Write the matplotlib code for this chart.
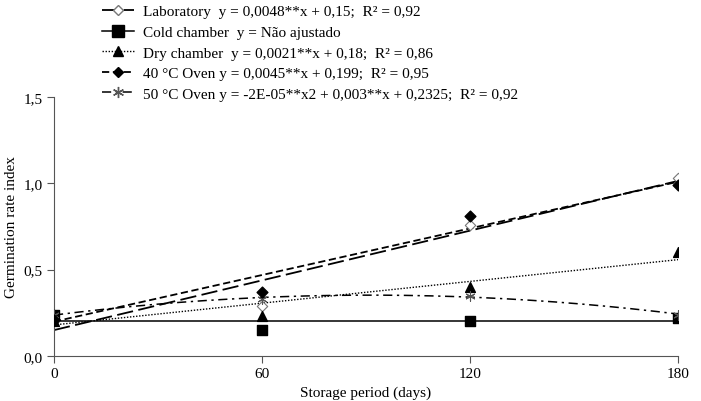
import numpy as np
import matplotlib
matplotlib.use("Agg")
import matplotlib.pyplot as plt
from matplotlib.lines import Line2D

plt.rcParams['font.family'] = ['Liberation Serif', 'DejaVu Serif']

# storage period (days)
days = [0, 60, 120, 180]

# observed germination rate index
lab = [0.20, 0.29, 0.76, 1.03]
cold = [0.24, 0.15, 0.20, 0.22]
dry = [0.20, 0.23, 0.40, 0.60]
oven40 = [0.21, 0.37, 0.81, 0.99]
oven50 = [0.24, 0.33, 0.35, 0.24]

# fitted lines (slope, intercept)
lab_fit = [0.0048, 0.15]
cold_fit = 0.20
dry_fit = [0.0021, 0.18]
oven40_fit = [0.0045, 0.199]

labels = ["Laboratory  y = 0,0048**x + 0,15;  R\u00b2 = 0,92",
          "Cold chamber  y = N\u00e3o ajustado",
          "Dry chamber  y = 0,0021**x + 0,18;  R\u00b2 = 0,86",
          "40 \u00b0C Oven y = 0,0045**x + 0,199;  R\u00b2 = 0,95",
          "50 \u00b0C Oven y = -2E-05**x2 + 0,003**x + 0,2325;  R\u00b2 = 0,92"]

fig = plt.figure(figsize=(7.01, 4.02), dpi=100)
ax = fig.add_axes([54/701, 1-357/402, (678-54)/701, (357-98)/402])

xx = np.linspace(0, 180, 200)
x = np.array(days)
q = np.polyfit(x, oven50, 2)

ax.plot(xx, lab_fit[0]*xx + lab_fit[1], color="black", lw=1.3, dashes=(9, 3))
ax.plot(xx, np.full_like(xx, cold_fit), color="black", lw=1.1)
ax.plot(xx, dry_fit[0]*xx + dry_fit[1], color="black", lw=1.0, ls=(0, (1, 1.2)))
ax.plot(xx, oven40_fit[0]*xx + oven40_fit[1], color="black", lw=1.3, dashes=(4, 2))
ax.plot(xx, np.polyval(q, xx), color="black", lw=1.1, dashes=(6, 3, 1.5, 3))

ax.scatter(days, lab, marker="D", s=28, facecolor="white", edgecolor="#777777", lw=0.8, zorder=3)
ax.scatter(days, cold, marker="s", s=60, color="black", zorder=3)
ax.scatter(days, dry, marker="^", s=50, color="black", zorder=3)
ax.scatter(days, oven40, marker="D", s=30, color="black", zorder=4)
ax.scatter(days, oven50, marker=(6, 2, 0), s=45, color="#555555", lw=0.8, zorder=3)

ax.set_xlim(0, 180)
ax.set_ylim(0, 1.5)
ax.set_xticks([0, 60, 120, 180])
ax.set_yticks([0, 0.5, 1.0, 1.5])
ax.set_yticklabels(["0,0", "0,5", "1,0", "1,5"])
ax.spines['top'].set_visible(False)
ax.spines['right'].set_visible(False)
for s in ['left', 'bottom']:
    ax.spines[s].set_color("#555555")
ax.tick_params(direction="out", length=5, color="#555555", labelsize=11, pad=3)
ax.set_xlabel("Storage period (days)", fontsize=11)
ax.set_ylabel("Germination rate index", fontsize=11)
ax.xaxis.set_label_coords(0.5, -0.115)
ax.yaxis.set_label_coords(-0.058, 0.5)

# legend handles
h = [Line2D([], [], color="black", lw=1.3, dashes=(9, 3), marker="D", ms=5, mfc="white", mec="#777777"),
     Line2D([], [], color="black", lw=1.1, marker="s", ms=8, mfc="black", mec="black"),
     Line2D([], [], color="black", lw=1.0, ls=(0, (1, 1.2)), marker="^", ms=7, mfc="black", mec="black"),
     Line2D([], [], color="black", lw=1.3, dashes=(4, 2), marker="D", ms=5, mfc="black", mec="black"),
     Line2D([], [], color="black", lw=1.1, dashes=(6, 3, 1.5, 3), marker=(6, 2, 0), ms=8, mec="#555555")]
fig.legend(h, labels, loc="upper left", bbox_to_anchor=(88/701, 1.02), frameon=False,
           fontsize=11, handlelength=2.1, handletextpad=0.6, labelspacing=0.45)

fig.savefig("out.png", dpi=100)
